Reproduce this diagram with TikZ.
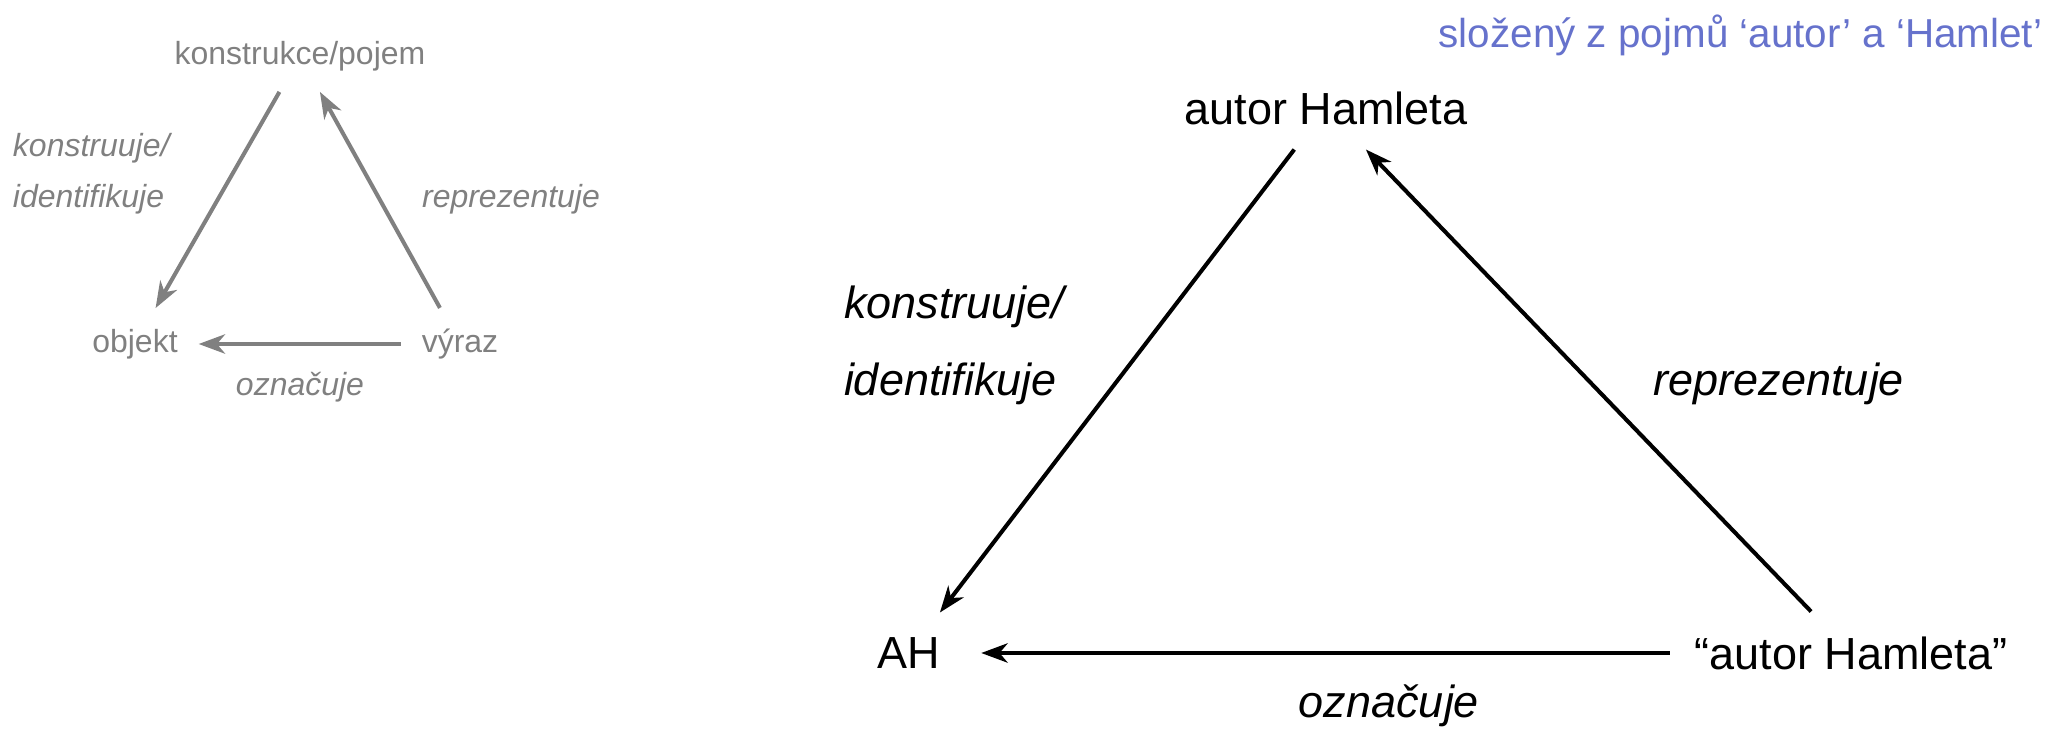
\documentclass[tikz,border=0pt]{standalone}
\usepackage{fontspec}
\setmainfont{Liberation Sans}
\usetikzlibrary{arrows.meta}

\definecolor{notecol}{RGB}{102,114,204}

\begin{document}
\begin{tikzpicture}[
    big/.style={font=\fontsize{12.8}{15}\selectfont, inner sep=0pt, outer sep=0.25cm},
    small/.style={font=\fontsize{9.1}{11}\selectfont, text=gray, inner sep=0pt, outer sep=0.21cm},
    rel/.style={-{Stealth[length=7.5pt,width=5.5pt,inset=2.3pt]}, line width=1.15pt},
  ]
  \useasboundingbox (0,0) rectangle (20.57,7.30);

  % the general triangle, in gray
  \node[small] (kp) at (3.00,6.74) {konstrukce/pojem};
  \node[small] (obj) at (1.35,3.86) {objekt};
  \node[small] (vyr) at (4.60,3.86) {výraz};
  \node[small,outer sep=0pt,anchor=west] (kon) at (0.13,5.82) {\itshape konstruuje/};
  \node[small,outer sep=0pt,anchor=west] (ide) at (0.13,5.31) {\itshape identifikuje};
  \node[small] (rep) at (5.11,5.31) {\itshape reprezentuje};
  \node[small] (ozn) at (3.00,3.43) {\itshape označuje};

  \draw[rel,gray] (kp) -- (obj);
  \draw[rel,gray] (vyr) -- (kp);
  \draw[rel,gray] (vyr) -- (obj);

  % the example
  \node[big] (ah) at (13.26,6.22) {autor Hamleta};
  \node[big] (AH) at (9.09,0.77) {AH};
  \node[big] (expr) at (18.51,0.77) {“autor Hamleta”};
  \node[big,outer sep=0pt,anchor=west] (kon2) at (8.44,4.23) {\itshape konstruuje/};
  \node[big,outer sep=0pt,anchor=west] (ide2) at (8.44,3.46) {\itshape identifikuje};
  \node[big] (rep2) at (17.79,3.46) {\itshape reprezentuje};
  \node[big] (ozn2) at (13.89,0.24) {\itshape označuje};
  \node[font=\fontsize{11.5}{14}\selectfont, text=notecol, inner sep=0pt, anchor=east] (note)
    at (20.43,6.95) {složený z pojmů ‘autor’ a ‘Hamlet’};

  \draw[rel] (ah) -- (AH);
  \draw[rel] (expr) -- (ah);
  \draw[rel,shorten >=0.16cm] (expr) -- (AH);
\end{tikzpicture}
\end{document}
